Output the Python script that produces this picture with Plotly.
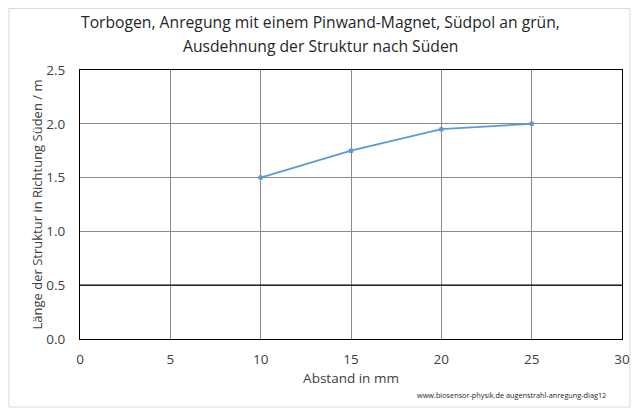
import plotly.graph_objects as go

x_mm = [10, 15, 20, 25]
y_len = [1.5, 1.75, 1.95, 2.0]
x_ticks = [0, 5, 10, 15, 20, 25, 30]
y_ticks = [0.0, 0.5, 1.0, 1.5, 2.0, 2.5]
title_lines = ["Torbogen, Anregung mit einem Pinwand-Magnet, Südpol an grün,",
               "Ausdehnung der Struktur nach Süden"]

FONT = "Open Sans"
OFF = 8  # page body margin
W, H = 642 - OFF, 416 - OFF
L, R, T, B = 80 - OFF, 17, 70 - OFF, 77
pw, ph = W - L - R, H - T - B

def px(xp):
    return (xp - OFF - L) / pw

def py(yp):
    return (H - B - (yp - OFF)) / ph

fig = go.Figure()
fig.add_trace(go.Scatter(
    x=x_mm, y=y_len, mode="lines+markers",
    line=dict(color="#5b9bd5", width=1.8),
    marker=dict(color="#5b9bd5", size=5),
    showlegend=False,
))

title_ann = [
    dict(text=t, xref="paper", yref="paper", x=px(322), y=py(yy),
         xanchor="center", yanchor="middle", showarrow=False,
         font=dict(family=FONT, size=15.7, color="#262626"))
    for t, yy in zip(title_lines, [22, 46])
]

fig.update_layout(
    width=W, height=H,
    margin=dict(l=L, r=R, t=T, b=B),
    paper_bgcolor="white", plot_bgcolor="white",
    font=dict(family=FONT, color="#404040", size=13),
    xaxis=dict(
        range=[0, 30], tickvals=x_ticks, ticktext=[str(v) for v in x_ticks],
        showgrid=True, gridcolor="#8a8a8a", gridwidth=1,
        showline=True, linecolor="black", linewidth=1, mirror=True,
        zeroline=False, ticks="", ticklabelstandoff=8,
        title=dict(text="Abstand in mm", font=dict(size=13.5, color="#404040"), standoff=6),
        tickfont=dict(size=13.5, color="#404040"),
    ),
    yaxis=dict(
        range=[0, 2.5], tickvals=y_ticks, ticktext=[f"{v:.1f}" for v in y_ticks],
        showgrid=True, gridcolor="#8a8a8a", gridwidth=1,
        showline=True, linecolor="black", linewidth=1, mirror=True,
        zeroline=False, ticks="", ticklabelstandoff=11,
        title=dict(text="Länge der Struktur in Richtung Süden / m", font=dict(size=13, color="#404040"), standoff=0),
        tickfont=dict(size=13.5, color="#404040"),
    ),
    shapes=[
        dict(type="line", xref="x", yref="y", x0=0, x1=30, y0=0.5, y1=0.5,
             line=dict(color="black", width=1.2)),
        dict(type="rect", xref="paper", yref="paper",
             x0=px(8.5), x1=px(633), y0=py(407), y1=py(8.5),
             line=dict(color="#d9d9d9", width=1), layer="below"),
    ],
    annotations=title_ann + [
        dict(text="www.biosensor-physik.de augenstrahl-anregung-diag12",
             xref="paper", yref="paper", x=px(611), y=py(395),
             xanchor="right", yanchor="middle", showarrow=False,
             font=dict(family=FONT, size=7.3, color="#262626")),
    ],
)

fig.write_html("out.html")
